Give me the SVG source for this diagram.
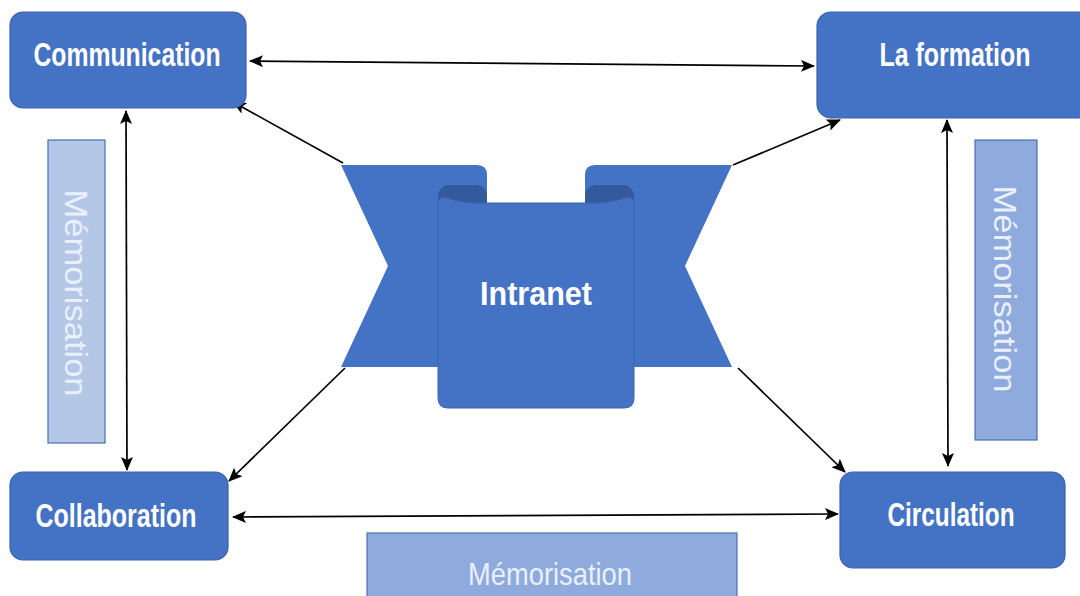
<svg xmlns="http://www.w3.org/2000/svg" width="1080" height="596" viewBox="0 0 1080 596">
  <style>
    .node { fill: #4472C4; stroke: #3A63AD; stroke-width: 1.2; }
    .label { fill: #FFFFFF; font-family: "Liberation Sans Narrow", "Liberation Sans", Arial, sans-serif; font-weight: bold; font-size: 33px; text-anchor: middle; }
    .memo { stroke: #4A6FB5; stroke-width: 1.2; }
    .memo-light { fill: #B4C7E7; }
    .memo-mid { fill: #8FAADC; }
    .memo-text { fill: #EAF0FA; font-family: "Liberation Sans Narrow", "Liberation Sans", Arial, sans-serif; font-size: 32px; text-anchor: middle; }
    .link { stroke: #000000; stroke-width: 1.7; fill: none; }
  </style>
  <defs>
    <marker id="arrow" viewBox="0 0 14 12" refX="13" refY="6" markerWidth="14" markerHeight="12" markerUnits="userSpaceOnUse" orient="auto-start-reverse">
      <path d="M0,0 L14,6 L0,12 L3,6 Z" fill="#000000"/>
    </marker>
  </defs>

  <rect width="1080" height="596" fill="#FFFFFF"/>

  <!-- Memorisation bands -->
  <g id="memo-left">
    <rect class="memo memo-light" x="48" y="140" width="57" height="303"/>
    <text class="memo-text" transform="translate(76,293) rotate(90)" y="11" textLength="207" lengthAdjust="spacingAndGlyphs">Mémorisation</text>
  </g>
  <g id="memo-right">
    <rect class="memo memo-mid" x="975" y="140" width="62" height="300"/>
    <text class="memo-text" transform="translate(1005,289) rotate(90)" y="11" textLength="207" lengthAdjust="spacingAndGlyphs">Mémorisation</text>
  </g>
  <g id="memo-bottom">
    <rect class="memo memo-mid" x="367" y="533" width="370" height="70"/>
    <text class="memo-text" x="550" y="585" textLength="164" lengthAdjust="spacingAndGlyphs">Mémorisation</text>
  </g>

  <!-- Connectors -->
  <g id="connectors">
    <line class="link" x1="250" y1="61" x2="814" y2="66" marker-start="url(#arrow)" marker-end="url(#arrow)"/>
    <line class="link" x1="233" y1="517" x2="838" y2="514" marker-start="url(#arrow)" marker-end="url(#arrow)"/>
    <line class="link" x1="126" y1="111" x2="127" y2="470" marker-start="url(#arrow)" marker-end="url(#arrow)"/>
    <line class="link" x1="947" y1="120" x2="948" y2="466" marker-start="url(#arrow)" marker-end="url(#arrow)"/>
    <line class="link" x1="343" y1="163" x2="233" y2="102" marker-end="url(#arrow)"/>
    <line class="link" x1="733" y1="165" x2="840" y2="120" marker-end="url(#arrow)"/>
    <line class="link" x1="345" y1="368" x2="229" y2="481" marker-end="url(#arrow)"/>
    <line class="link" x1="738" y1="368" x2="845" y2="472" marker-end="url(#arrow)"/>
  </g>

  <!-- Central ribbon -->
  <g id="intranet">
    <path d="M341,165 H477 Q487,165 487,175 V367 H341 L388,266 Z" fill="#4472C4"/>
    <path d="M732,165 H595 Q585,165 585,175 V367 H732 L685,266 Z" fill="#4472C4"/>
    <rect x="438" y="185" width="49" height="40" rx="11" fill="#34599C"/>
    <rect x="585" y="185" width="49" height="40" rx="11" fill="#34599C"/>
    <path d="M438,203 Q438,197 444,197 Q462,204 487,203 H585 Q610,204 628,197 Q634,197 634,203 V398 Q634,408 624,408 H448 Q438,408 438,398 Z" fill="#4472C4" stroke="#3A63AD" stroke-width="1"/>
    <text class="label" x="536" y="305" font-size="37" textLength="112" lengthAdjust="spacingAndGlyphs">Intranet</text>
  </g>

  <!-- Nodes -->
  <g id="communication">
    <rect class="node" x="10" y="12" width="236" height="96" rx="13"/>
    <text class="label" x="127" y="66" textLength="187" lengthAdjust="spacingAndGlyphs">Communication</text>
  </g>
  <g id="la-formation">
    <rect class="node" x="817" y="12" width="275" height="106" rx="14"/>
    <text class="label" x="955" y="66" textLength="151" lengthAdjust="spacingAndGlyphs">La formation</text>
  </g>
  <g id="collaboration">
    <rect class="node" x="10" y="472" width="218" height="88" rx="13"/>
    <text class="label" x="116" y="527" textLength="161" lengthAdjust="spacingAndGlyphs">Collaboration</text>
  </g>
  <g id="circulation">
    <rect class="node" x="840" y="472" width="225" height="96" rx="13"/>
    <text class="label" x="951" y="526" textLength="127" lengthAdjust="spacingAndGlyphs">Circulation</text>
  </g>
</svg>
